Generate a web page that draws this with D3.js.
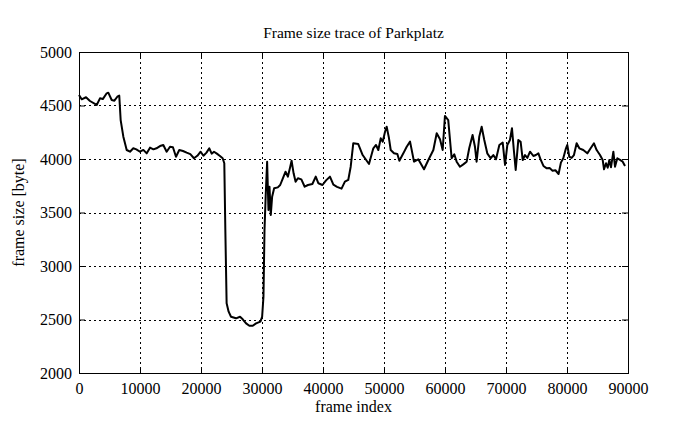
<!DOCTYPE html>
<html><head><meta charset="utf-8">
<script src="https://cdn.jsdelivr.net/npm/d3@7"></script>
<style>body{margin:0;background:#fff}svg{display:block}text{font-family:"Liberation Serif","Times New Roman",serif;fill:#000}</style>
</head><body><svg id="c" width="695" height="426"></svg>
<script>
const title = "Frame size trace of Parkplatz";
const xLabel = "frame index";
const yLabel = "frame size [byte]";
const xTicks = [0,10000,20000,30000,40000,50000,60000,70000,80000,90000];
const yTicks = [2000,2500,3000,3500,4000,4500,5000];
const frameIndex = [0,440,1150,1800,2900,3440,3900,4540,4800,5360,5800,6280,6600,6830,7270,7820,8360,8900,9400,10000,10550,11100,11640,12200,12700,13280,13820,14370,14920,15400,15900,16440,17050,17650,18250,18850,19400,19940,20400,20900,21360,21750,22130,22600,23110,23550,23820,23990,24200,24530,24920,25740,26400,26840,27390,27930,28480,29030,29740,30020,30240,30410,30600,30840,31060,31230,31440,31660,31990,32590,32980,33420,33860,34240,34630,34850,35180,35510,35890,36450,37000,37540,38260,38810,39250,39910,40500,41140,41700,42300,43040,43590,44140,44540,44960,45780,46500,47540,48250,48690,49070,49460,49790,50170,50440,50800,51100,51640,52190,52520,53170,53720,54270,54920,55620,56560,57270,58090,58640,59180,59620,59990,60530,61090,61520,61910,62450,63000,63550,63970,64520,64910,65180,65620,66010,66440,66930,67480,67920,68360,68910,69460,69840,70220,70650,70980,71310,71590,72020,72400,72740,73120,73500,73940,74490,74900,75310,75700,76140,76690,77150,77630,78100,78620,79000,79390,79830,80050,80370,80750,81140,81580,82020,82670,83330,83880,84420,84860,85410,85850,86070,86400,86670,86940,87210,87600,87870,88250,88690,89130,89510];
const frameSize = [4598,4558,4577,4542,4505,4567,4560,4614,4620,4551,4545,4582,4592,4364,4209,4084,4068,4100,4090,4068,4085,4053,4106,4090,4100,4121,4131,4068,4115,4110,4021,4084,4075,4059,4045,4007,4030,4068,4030,4060,4100,4050,4068,4050,4028,4007,3960,3336,2651,2573,2526,2511,2526,2502,2464,2442,2442,2464,2480,2526,2713,3336,3650,3975,3523,3741,3477,3648,3726,3735,3757,3820,3881,3835,3928,3984,3866,3788,3820,3810,3741,3757,3766,3835,3773,3757,3800,3835,3760,3740,3723,3788,3804,3928,4147,4140,4037,3953,4100,4131,4084,4193,4162,4255,4302,4200,4084,4053,4047,3984,4053,4115,4162,3975,3997,3904,3991,4084,4240,4184,4084,4402,4364,4007,4044,3975,3928,3950,3975,4100,4224,4115,3975,4209,4302,4178,4053,4007,4037,3997,4131,4153,3944,4131,4178,4287,4068,3897,4178,4160,3991,4037,4010,4068,4028,4037,4053,3991,3935,3913,3915,3891,3895,3860,3966,4007,4100,4131,4021,4010,4037,4147,4100,4084,4053,4100,4147,4084,4037,3991,3904,3960,3919,3991,3922,4068,3928,4007,3991,3975,3935];

const W = 695, H = 426;
const m = {left:79, top:52, right:W-628, bottom:H-373};
const iw = W - m.left - m.right, ih = H - m.top - m.bottom;
const svg = d3.select("#c");
const g = svg.append("g").attr("transform",`translate(${m.left},${m.top})`);
const x = d3.scaleLinear().domain([0,90000]).range([0,iw]);
const y = d3.scaleLinear().domain([2000,5000]).range([ih,0]);

// grid
g.append("g").selectAll("line").data(xTicks.slice(1,-1)).join("line")
  .attr("x1",d=>Math.round(x(d))+0.5).attr("x2",d=>Math.round(x(d))+0.5).attr("y1",0).attr("y2",ih)
  .attr("stroke","#000").attr("stroke-width",1).attr("stroke-dasharray","2,3");
g.append("g").selectAll("line").data(yTicks.slice(1,-1)).join("line")
  .attr("y1",d=>Math.round(y(d))+0.5).attr("y2",d=>Math.round(y(d))+0.5).attr("x1",0).attr("x2",iw)
  .attr("stroke","#000").attr("stroke-width",1).attr("stroke-dasharray","2,3");

// axes
const fs = 16;
const xa = g.append("g").attr("transform",`translate(0,${ih})`)
  .call(d3.axisBottom(x).tickValues(xTicks).tickFormat(d3.format("d")).tickSize(-6).tickPadding(10));
const xt = g.append("g").call(d3.axisTop(x).tickValues(xTicks).tickFormat("").tickSize(-6));
const ya = g.append("g").call(d3.axisLeft(y).tickValues(yTicks).tickFormat(d3.format("d")).tickSize(-6).tickPadding(7));
const yr = g.append("g").attr("transform",`translate(${iw},0)`).call(d3.axisRight(y).tickValues(yTicks).tickFormat("").tickSize(-6));
[xa,xt,ya,yr].forEach(a=>{a.select(".domain").remove();a.selectAll("line").attr("stroke","#000");a.selectAll("text").attr("font-size",fs).attr("font-family","Liberation Serif").attr("fill","#000");});

g.append("rect").attr("x",0.5).attr("y",0.5).attr("width",iw).attr("height",ih)
  .attr("fill","none").attr("stroke","#000").attr("stroke-width",1);

// line
const pts = frameIndex.map((f,i)=>[f,frameSize[i]]);
g.append("path").datum(pts)
  .attr("d",d3.line().x(d=>x(d[0])).y(d=>y(d[1])))
  .attr("fill","none").attr("stroke","#000").attr("stroke-width",2).attr("stroke-linejoin","round");

// labels
svg.append("text").attr("x",m.left+iw/2).attr("y",38).attr("text-anchor","middle").attr("font-size",15.5).text(title);
svg.append("text").attr("x",m.left+iw/2).attr("y",412).attr("text-anchor","middle").attr("font-size",fs).text(xLabel);
svg.append("text").attr("transform",`translate(24,${m.top+ih/2}) rotate(-90)`).attr("text-anchor","middle").attr("font-size",fs).text(yLabel);
</script></body></html>
